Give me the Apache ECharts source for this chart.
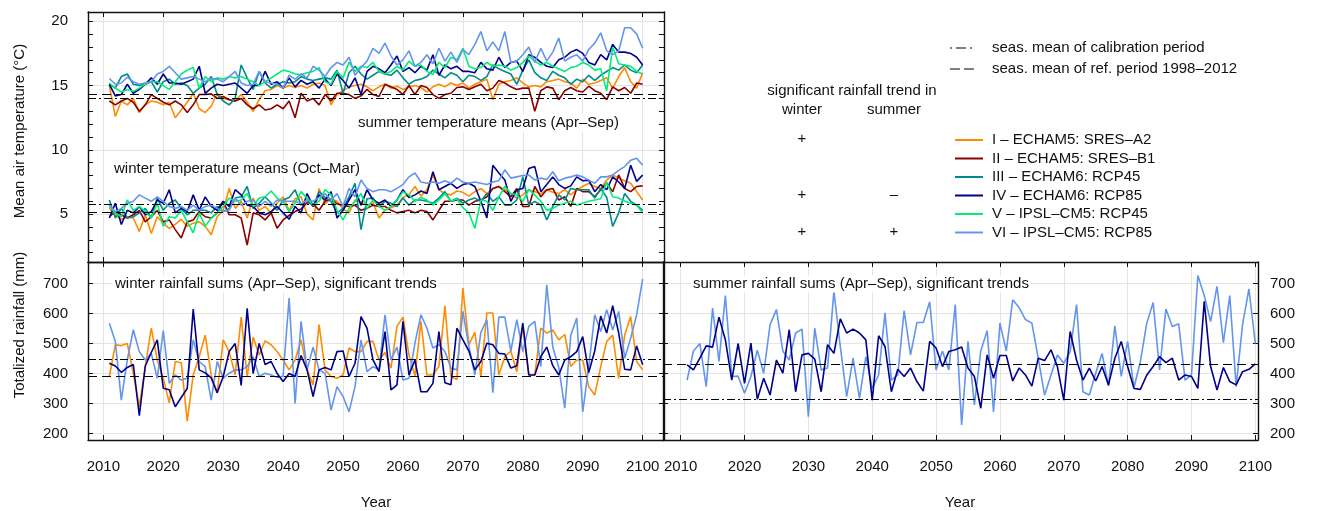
<!DOCTYPE html>
<html>
<head>
<meta charset="utf-8">
<title>Temperature and rainfall scenarios 2011-2100</title>
<script src="https://cdn.jsdelivr.net/npm/echarts@6/dist/echarts.min.js"></script>
<style>
  html, body { margin: 0; padding: 0; background: #fff; }
  #main { width: 1325px; height: 511px; }
</style>
</head>
<body>
<div id="main"></div>
<script>
// ---- data (one value per year, starting 2011) ----
var firstYear = 2011;
var modelNames = ['I \u2013 ECHAM5: SRES\u2013A2', 'II \u2013 ECHAM5: SRES\u2013B1', 'III \u2013 ECHAM6: RCP45',
                  'IV \u2013 ECHAM6: RCP85', 'V \u2013 IPSL\u2013CM5: RCP45', 'VI \u2013 IPSL\u2013CM5: RCP85'];
var modelColors = ['#FF8C00', '#8B0000', '#008B8B', '#00008B', '#00EE76', '#6495ED'];

// summer temperature means (Apr-Sep), deg C
var summerI = [15.0, 12.6, 13.8, 13.5, 14.0, 12.9, 13.5, 13.8, 13.7, 13.5, 13.7, 12.5, 13.1, 13.7, 14.4, 13.2, 12.9, 13.4, 14.4, 14.0, 13.9, 13.8, 14.3, 13.7, 13.0, 13.9, 14.6, 14.7, 15.0, 14.8,
               15.0, 14.85, 15.0, 14.8, 15.1, 15.2, 15.0, 13.5, 14.3, 14.6, 14.9, 15.0, 15.1, 14.9, 14.6, 14.9, 15.1, 14.8, 14.95, 14.7, 14.9, 15.0, 14.85, 14.5, 14.9, 15.1, 14.9, 15.2, 15.0, 15.2,
               14.8, 15.1, 15.3, 15.5, 13.9, 15.1, 15.3, 15.4, 15.6, 15.2, 14.9, 15.0, 14.9, 15.3, 15.4, 15.5, 15.3, 15.2, 14.8, 15.5, 15.1, 15.2, 15.4, 15.6, 14.8, 15.7, 16.4, 15.3, 14.8, 16.0];
var summerII = [13.8, 13.5, 13.8, 14.0, 13.7, 13.0, 13.5, 14.3, 14.0, 13.7, 13.5, 13.8, 13.5, 12.9, 13.5, 14.3, 14.3, 14.35, 14.0, 14.15, 13.9, 13.8, 14.0, 13.5, 13.2, 13.5, 13.1, 13.2, 13.5, 13.2,
                13.8, 12.5, 14.4, 13.8, 14.0, 13.5, 14.3, 13.8, 14.4, 14.4, 14.3, 14.0, 14.2, 14.7, 14.3, 14.15, 15.1, 14.9, 14.7, 14.3, 15.0, 14.3, 15.0, 14.85, 14.3, 14.0, 14.3, 14.4, 14.85, 14.9,
                14.7, 14.9, 15.1, 14.6, 14.8, 15.4, 15.2, 14.9, 14.7, 14.8, 14.8, 13.0, 14.6, 14.9, 14.8, 13.9, 14.6, 14.85, 14.6, 14.5, 14.95, 14.6, 14.4, 13.9, 14.9, 14.6, 14.85, 14.4, 15.2, 15.1];
var summerIII = [15.1, 14.8, 15.7, 15.9, 15.1, 15.0, 15.1, 15.3, 14.5, 15.3, 15.5, 15.1, 15.2, 15.0, 14.4, 14.8, 15.1, 15.7, 14.3, 13.8, 13.5, 14.0, 16.6, 15.6, 14.7, 16.1, 15.2, 14.8, 15.1, 15.3,
                 15.2, 15.3, 15.7, 15.5, 15.4, 15.5, 15.6, 15.5, 16.2, 14.4, 16.0, 16.5, 15.9, 15.5, 15.8, 16.1, 15.9, 15.8, 16.2, 15.6, 15.1, 15.4, 15.5, 15.7, 16.2, 15.9, 15.6, 16.0, 15.8, 15.3,
                 15.8, 15.7, 15.4, 15.7, 16.6, 16.3, 16.1, 15.9, 15.1, 16.2, 17.0, 16.0, 15.6, 15.4, 16.1, 15.8, 15.6, 15.1, 15.5, 15.3, 15.8, 15.4, 15.8, 16.1, 16.4, 16.2, 16.6, 16.2, 16.0, 16.6];
var summerIV = [15.1, 14.2, 14.3, 15.1, 14.4, 14.7, 15.1, 15.6, 15.1, 15.9, 15.2, 15.2, 15.1, 15.3, 15.5, 16.5, 14.4, 14.8, 15.1, 15.0, 15.1, 15.2, 14.8, 14.4, 15.0, 15.0, 16.1, 15.1, 15.3, 14.8,
                15.6, 14.9, 15.4, 15.1, 15.3, 14.8, 15.5, 15.0, 15.9, 15.4, 14.8, 15.6, 14.3, 16.1, 16.5, 16.3, 16.0, 16.6, 17.3, 16.1, 16.4, 16.0, 16.5, 16.2, 17.4, 15.8, 16.6, 16.3, 16.5, 16.1,
                16.1, 16.0, 16.8, 16.3, 16.2, 17.2, 16.4, 16.8, 16.9, 16.1, 17.4, 17.2, 16.8, 16.5, 16.4, 17.0, 17.2, 17.6, 17.8, 17.5, 16.8, 16.6, 17.4, 17.0, 18.2, 17.6, 17.6, 17.5, 17.2, 16.6];
var summerV = [15.2, 14.8, 14.5, 14.7, 14.55, 14.8, 15.1, 15.3, 15.3, 15.0, 14.7, 15.3, 15.9, 16.2, 16.4, 14.8, 15.7, 15.3, 15.6, 15.5, 15.7, 15.6, 15.7, 15.5, 15.3, 15.0, 15.3, 15.6, 15.9, 16.2,
               16.1, 15.9, 15.85, 16.0, 16.1, 16.4, 15.3, 15.1, 16.1, 15.6, 16.8, 16.1, 16.5, 16.4, 16.8, 16.1, 15.9, 16.1, 16.5, 16.2, 16.9, 16.5, 16.6, 16.1, 15.85, 16.8, 16.4, 17.2, 17.0, 17.9,
               16.5, 16.3, 16.4, 16.8, 16.5, 16.6, 16.5, 16.2, 16.4, 16.8, 17.3, 16.9, 16.6, 16.8, 16.5, 16.3, 16.1, 16.4, 16.5, 16.8, 16.6, 16.2, 16.3, 14.6, 18.0, 16.7, 16.6, 16.5, 16.1, 15.9];
var summerVI = [15.55, 15.1, 15.2, 15.65, 15.3, 15.1, 15.2, 15.3, 15.9, 16.1, 16.5, 16.0, 15.5, 15.6, 15.7, 15.5, 15.3, 15.55, 15.5, 15.3, 15.7, 16.1, 15.2, 15.0, 15.1, 16.1, 15.3, 15.2, 15.1, 14.8,
                15.8, 15.5, 15.9, 15.6, 16.5, 16.2, 15.7, 16.4, 16.8, 16.6, 17.2, 15.8, 16.4, 16.9, 17.9, 17.5, 18.3, 17.3, 16.6, 17.0, 17.7, 16.5, 16.8, 17.4, 16.7, 17.9, 16.9, 17.6, 16.8, 17.8,
                17.4, 18.2, 19.2, 17.7, 18.4, 17.7, 19.2, 16.8, 16.9, 17.4, 18.0, 16.8, 17.9, 16.9, 17.6, 18.7, 16.9, 17.2, 17.4, 16.9, 17.8, 18.3, 19.1, 17.7, 17.4, 17.7, 19.5, 19.5, 19.0, 17.9];

// winter temperature means (Oct-Mar), deg C
var winterI = [5.45, 4.95, 4.6, 4.8, 4.7, 3.65, 4.95, 3.5, 4.8, 4.3, 3.9, 4.2, 4.6, 4.05, 4.3, 4.4, 4.05, 3.4, 4.8, 5.3, 7.0, 5.45, 6.0, 4.7, 6.25, 5.3, 5.6, 5.1, 5.85, 6.35,
               5.3, 6.2, 6.35, 5.0, 4.55, 7.0, 5.8, 6.2, 6.0, 5.4, 5.1, 6.1, 5.9, 5.7, 5.9, 4.7, 5.3, 5.5, 5.7, 6.3, 6.5, 7.15, 6.4, 6.9, 8.05, 6.9, 6.6, 6.5, 6.8, 6.7,
               6.4, 6.75, 7.0, 6.6, 7.0, 7.15, 6.9, 6.6, 6.25, 6.5, 6.9, 6.75, 6.6, 6.9, 6.7, 6.6, 6.9, 6.5, 6.9, 7.15, 7.4, 7.15, 7.0, 7.65, 8.05, 7.8, 7.6, 7.4, 6.75, 6.1];
var winterII = [4.8, 5.2, 4.95, 4.7, 4.95, 5.3, 4.4, 4.8, 5.3, 4.4, 4.55, 3.8, 3.15, 4.4, 4.55, 5.2, 4.8, 4.7, 5.1, 6.0, 4.95, 4.95, 4.7, 2.6, 5.1, 4.95, 4.55, 5.1, 3.9, 4.55,
                4.9, 5.2, 5.4, 5.9, 5.8, 5.3, 6.0, 6.2, 5.8, 5.7, 5.6, 5.7, 5.3, 5.45, 5.7, 5.6, 5.6, 5.3, 5.1, 5.2, 5.3, 5.1, 5.3, 5.2, 4.55, 5.3, 6.0, 6.0, 6.1, 6.1,
                5.7, 6.0, 6.1, 6.35, 7.0, 7.15, 6.75, 6.35, 7.0, 5.6, 5.6, 7.15, 6.35, 6.9, 7.0, 6.1, 6.35, 5.6, 7.0, 6.75, 6.75, 6.35, 6.9, 7.4, 6.75, 8.05, 7.0, 6.75, 7.15, 7.2];
var winterIII = [6.1, 4.7, 5.45, 4.7, 4.8, 5.1, 5.45, 4.7, 6.25, 5.3, 5.85, 6.1, 5.45, 4.95, 5.3, 5.3, 5.3, 5.1, 5.6, 5.2, 5.45, 6.25, 6.35, 7.15, 5.45, 5.85, 6.35, 5.85, 5.3, 6.1,
                 6.3, 6.9, 5.7, 6.1, 5.6, 6.75, 6.3, 6.0, 5.1, 5.45, 6.35, 7.4, 3.8, 6.2, 6.25, 5.6, 6.0, 5.85, 5.6, 6.25, 5.7, 6.1, 6.1, 6.0, 5.85, 6.25, 6.75, 6.0, 6.25, 5.85,
                 6.1, 6.25, 6.0, 6.6, 6.0, 6.35, 5.7, 5.7, 6.1, 7.9, 5.7, 6.0, 5.7, 4.55, 5.6, 6.5, 6.1, 7.0, 6.9, 6.9, 6.9, 6.25, 7.0, 6.3, 4.05, 5.1, 6.6, 6.0, 5.7, 5.3];
var winterIV = [4.7, 5.85, 4.2, 5.3, 5.1, 5.6, 4.95, 5.2, 6.1, 5.85, 6.9, 5.1, 5.45, 5.2, 6.5, 5.3, 6.35, 5.6, 5.3, 6.0, 5.6, 6.9, 6.5, 5.7, 5.6, 5.1, 4.95, 5.2, 5.6, 5.1,
                4.6, 5.6, 5.1, 6.6, 5.6, 6.5, 6.1, 6.75, 4.7, 5.3, 6.1, 6.9, 5.7, 6.9, 6.1, 5.85, 6.1, 5.6, 6.1, 6.9, 6.3, 6.5, 6.8, 6.6, 8.3, 6.9, 7.15, 7.4, 7.0, 7.3,
                7.4, 7.15, 6.0, 4.7, 8.8, 8.2, 7.65, 6.0, 6.9, 7.0, 8.55, 8.7, 6.75, 7.3, 7.9, 7.3, 7.0, 7.2, 7.9, 7.6, 7.65, 6.75, 7.3, 6.9, 7.9, 7.5, 7.0, 8.8, 7.55, 8.05];
var winterV = [5.6, 5.1, 4.8, 6.1, 5.3, 5.6, 5.2, 4.7, 5.85, 4.05, 4.8, 4.7, 5.3, 4.4, 3.55, 5.1, 4.05, 4.7, 5.1, 5.6, 6.25, 6.0, 6.1, 6.6, 5.6, 6.25, 6.35, 6.8, 6.25, 6.0,
               5.2, 5.85, 6.75, 6.25, 5.7, 6.0, 6.9, 6.5, 5.3, 4.55, 5.45, 6.0, 6.6, 5.45, 6.1, 5.6, 5.3, 5.6, 6.1, 6.75, 6.5, 6.0, 6.3, 6.1, 5.7, 6.1, 6.6, 6.0, 6.2, 5.5,
               5.1, 3.9, 6.1, 6.0, 5.3, 6.35, 7.15, 6.6, 6.5, 6.0, 6.9, 6.5, 6.0, 5.3, 5.45, 5.7, 5.85, 6.0, 5.7, 5.85, 6.0, 6.1, 6.2, 7.5, 6.35, 6.25, 6.0, 5.85, 5.7, 5.1];
var winterVI = [5.7, 5.2, 5.45, 5.85, 6.0, 6.5, 6.25, 6.0, 6.35, 6.0, 5.6, 5.45, 5.6, 5.3, 5.7, 5.3, 5.6, 5.7, 5.45, 5.2, 5.3, 6.25, 5.7, 6.0, 6.1, 5.6, 6.0, 5.6, 6.1, 6.0,
                6.0, 6.0, 5.8, 6.1, 6.0, 6.3, 6.6, 6.1, 6.6, 5.6, 7.0, 6.35, 7.65, 7.0, 6.75, 6.9, 6.9, 6.75, 7.0, 7.3, 7.9, 8.2, 7.5, 7.4, 7.5, 7.4, 7.6, 7.4, 7.8, 7.5,
                7.4, 7.5, 7.4, 7.3, 7.5, 7.6, 8.45, 7.8, 7.9, 8.0, 8.05, 7.65, 7.8, 7.7, 8.3, 7.6, 7.8, 7.9, 8.05, 7.9, 7.65, 7.4, 7.9, 7.9, 8.05, 8.4, 8.7, 9.2, 9.35, 8.8];

// rainfall sums (mm), models with significant trends only
var rainWinterI = [389, 496, 493, 500, 401, 289, 423, 551, 445, 384, 302, 440, 436, 241, 395, 456, 528, 395, 334, 512, 473, 395, 588, 390, 521, 462, 509, 496, 473, 445,
                   412, 445, 512, 412, 362, 563, 412, 390, 384, 395, 485, 473, 473, 507, 507, 445, 470, 418, 557, 588, 462, 392, 574, 395, 395, 423, 626, 390, 380, 685,
                   496, 537, 390, 602, 602, 395, 456, 475, 406, 557, 395, 395, 551, 535, 545, 512, 530, 423, 445, 445, 356, 328, 423, 507, 528, 384, 528, 590, 440, 412];
var rainWinterIV = [434, 425, 404, 420, 430, 259, 425, 470, 512, 351, 346, 289, 320, 350, 615, 412, 402, 385, 336, 389, 473, 500, 360, 617, 400, 500, 430, 440, 400, 373,
                    400, 390, 460, 412, 323, 412, 420, 412, 473, 475, 390, 434, 590, 551, 445, 406, 540, 345, 362, 574, 395, 445, 339, 339, 367, 540, 369, 362, 551, 512,
                    475, 412, 440, 501, 496, 467, 465, 418, 426, 568, 395, 395, 456, 488, 426, 395, 445, 456, 473, 523, 403, 475, 592, 535, 626, 535, 414, 412, 492, 429];
var rainWinterVI = [568, 507, 311, 445, 546, 473, 445, 467, 384, 543, 367, 395, 378, 384, 512, 440, 423, 311, 440, 384, 401, 412, 412, 423, 456, 390, 401, 395, 387, 391,
                    652, 300, 574, 412, 488, 412, 401, 278, 356, 323, 272, 356, 512, 406, 423, 412, 596, 445, 488, 378, 384, 501, 596, 551, 485, 496, 473, 418, 412, 607,
                    490, 395, 537, 580, 336, 588, 588, 475, 580, 473, 557, 574, 423, 696, 488, 420, 284, 528, 585, 272, 423, 596, 540, 613, 545, 607, 451, 518, 596, 716];
var rainSummerIV = [429, 412, 451, 492, 488, 588, 512, 378, 500, 367, 501, 314, 384, 328, 445, 401, 546, 339, 462, 467, 448, 339, 496, 467, 582, 535, 548, 535, 512, 311,
                    526, 490, 339, 414, 390, 418, 373, 341, 507, 485, 423, 473, 479, 488, 418, 390, 284, 462, 384, 460, 460, 375, 418, 395, 358, 451, 443, 479, 423, 311,
                    540, 445, 378, 418, 375, 423, 362, 451, 507, 423, 350, 347, 395, 423, 456, 436, 451, 378, 395, 390, 350, 641, 423, 345, 420, 373, 362, 406, 414, 432];
var rainSummerVI = [378, 475, 500, 356, 618, 440, 660, 390, 391, 334, 390, 478, 401, 563, 613, 475, 445, 535, 548, 256, 551, 412, 418, 674, 490, 323, 451, 317, 456, 350,
                    395, 602, 378, 395, 610, 462, 570, 570, 639, 412, 475, 412, 630, 228, 507, 295, 475, 543, 272, 568, 475, 646, 620, 580, 568, 451, 328, 395, 462, 434,
                    473, 630, 339, 328, 401, 467, 358, 559, 390, 507, 353, 440, 568, 637, 412, 615, 557, 566, 378, 395, 727, 660, 573, 691, 503, 660, 356, 563, 682, 500];

// seasonal means: [summer, winter] for temperature, [winter, summer] for rainfall
var tempCalibMeans = [14.05, 5.75];
var tempRefMeans = [14.35, 5.12];
var rainCalibMeans = [448, 314];
var rainRefMeans = [390, 431];

// axis ticks and labels
var decadeTicks = [2010, 2020, 2030, 2040, 2050, 2060, 2070, 2080, 2090, 2100];
var tempTicks = [2, 3, 4, 5, 6, 7, 8, 9, 10, 11, 12, 13, 14, 15, 16, 17, 18, 19, 20];
var tempLabels = [5, 10, 15, 20];
var rainTicks = [200, 300, 400, 500, 600, 700];

// ---- chart ----
var font = '"Liberation Sans", Arial, sans-serif';
var ink = '#111';
var dashed = [9, 5];
var dashDot = [8, 3, 2, 3];

var myChart = echarts.init(document.getElementById('main'));

function toPairs(values) {
    return values.map(function(v, i) { return [firstYear + i, v]; });
}

function plain(v) { return String(v); }

// an axis that only draws the frame and/or inner ticks
function frameAxis(base, pos, ticks, showLine) {
    return {
        type: 'value', gridIndex: base.gridIndex, position: pos, min: base.min, max: base.max, offset: 0,
        axisLine: { show: showLine !== false, onZero: false, lineStyle: { color: ink, width: 1.4 } },
        axisTick: { show: true, inside: true, length: 5, customValues: ticks, lineStyle: { color: ink } },
        axisLabel: { show: false },
        splitLine: { show: false }
    };
}

function mainAxis(gridIndex, pos, min, max, ticks, labels, showLabels, splitNumber, margin) {
    return {
        type: 'value', gridIndex: gridIndex, position: pos, min: min, max: max, splitNumber: splitNumber,
        axisLine: { show: true, onZero: false, lineStyle: { color: ink, width: 1.4 } },
        axisTick: { show: true, inside: true, length: 5, customValues: ticks, lineStyle: { color: ink } },
        axisLabel: { show: showLabels, customValues: labels, formatter: plain, margin: margin,
                     fontSize: 15, color: ink, fontFamily: font },
        splitLine: { show: true, lineStyle: { color: '#e4e4e4', width: 1 } }
    };
}

var xTemp = mainAxis(0, 'bottom', 2007.44, 2103.56, decadeTicks, decadeTicks, false, 10, 19);
var xRainW = mainAxis(1, 'bottom', 2007.44, 2103.56, decadeTicks, decadeTicks, true, 10, 19);
var xRainS = mainAxis(2, 'bottom', 2007.23, 2100.42, decadeTicks, decadeTicks, true, 10, 19);
// grid lines only at labelled values, the unit ticks come from a helper axis
var yTemp = mainAxis(0, 'left', 1.28, 20.72, tempLabels, tempLabels, true, 4, 20);
var yRainW = mainAxis(1, 'left', 178, 772, rainTicks, rainTicks, true, 6, 20);
var yRainS = mainAxis(2, 'right', 178, 772, rainTicks, rainTicks, true, 6, 12);

function lineSeries(name, color, values, xi, yi) {
    return {
        name: name, type: 'line', xAxisIndex: xi, yAxisIndex: yi,
        data: toPairs(values), symbol: 'none', showSymbol: false, silent: true,
        lineStyle: { color: color, width: 1.6 }, itemStyle: { color: color }
    };
}

function meanLines(calib, ref) {
    return {
        silent: true, symbol: ['none', 'none'], label: { show: false },
        data: [
            { yAxis: calib, lineStyle: { type: dashDot, color: '#000', width: 1.2 } },
            { yAxis: ref, lineStyle: { type: dashed, color: '#000', width: 1.2 } }
        ]
    };
}

var summerSets = [summerI, summerII, summerIII, summerIV, summerV, summerVI];
var winterSets = [winterI, winterII, winterIII, winterIV, winterV, winterVI];
var series = [];
for (var m = 0; m < 6; m++) {
    series.push(lineSeries(modelNames[m], modelColors[m], summerSets[m], 0, 0));
}
for (var m = 0; m < 6; m++) {
    series.push(lineSeries(modelNames[m], modelColors[m], winterSets[m], 0, 0));
}
series[series.length - 1].markLine = meanLines(tempCalibMeans[0], tempRefMeans[0]);
series[series.length - 2].markLine = meanLines(tempCalibMeans[1], tempRefMeans[1]);

series.push(lineSeries(modelNames[0], modelColors[0], rainWinterI, 2, 2));
series.push(lineSeries(modelNames[5], modelColors[5], rainWinterVI, 2, 2));
var rw = lineSeries(modelNames[3], modelColors[3], rainWinterIV, 2, 2);
rw.markLine = meanLines(rainCalibMeans[0], rainRefMeans[0]);
series.push(rw);

series.push(lineSeries(modelNames[5], modelColors[5], rainSummerVI, 4, 4));
var rs = lineSeries(modelNames[3], modelColors[3], rainSummerIV, 4, 4);
rs.markLine = meanLines(rainCalibMeans[1], rainRefMeans[1]);
series.push(rs);

function label(text, x, y, align, extra) {
    var el = {
        type: 'text', x: x, y: y, z: 100, silent: true,
        style: { text: text, fontSize: 15, fontFamily: font, fill: ink, align: align || 'left', verticalAlign: 'middle' }
    };
    if (extra) { for (var k in extra) { el[k] = extra[k]; } }
    return el;
}

// panel captions sit on a white box, covering the grid line behind them
function caption(text, x, y) {
    var el = label(text, x, y);
    el.style.backgroundColor = '#fff';
    el.style.padding = [1, 2, 1, 2];
    return el;
}

var option = {
    animation: false,
    textStyle: { fontFamily: font },
    grid: [
        { left: 88, top: 12, width: 576, height: 250 },
        { left: 88, top: 262, width: 576, height: 178 },
        { left: 663, top: 262, width: 595, height: 178 }
    ],
    xAxis: [xTemp, frameAxis(xTemp, 'top', decadeTicks),
            xRainW, frameAxis(xRainW, 'top', decadeTicks),
            xRainS, frameAxis(xRainS, 'top', decadeTicks)],
    yAxis: [yTemp, frameAxis(yTemp, 'right', tempTicks),
            yRainW, frameAxis(yRainW, 'right', rainTicks),
            yRainS, frameAxis(yRainS, 'left', rainTicks),
            frameAxis(yTemp, 'left', tempTicks, false)],
    legend: {
        data: modelNames, orient: 'vertical', left: 950, top: 127.5,
        icon: 'rect', itemWidth: 28, itemHeight: 2, itemGap: 3.5, selectedMode: false,
        textStyle: { fontSize: 15, color: ink, fontFamily: font, padding: [0, 0, 0, 4] }
    },
    graphic: [
        caption('summer temperature means (Apr\u2013Sep)', 356, 123),
        caption('winter temperature means (Oct\u2013Mar)', 112, 169),
        caption('winter rainfall sums (Apr\u2013Sep), significant trends', 113, 284),
        caption('summer rainfall sums (Apr\u2013Sep), significant trends', 691, 284),
        label('Mean air temperature (\u00B0C)', 20, 131, 'center', { rotation: Math.PI / 2 }),
        label('Totalized rainfall (mm)', 20, 325, 'center', { rotation: Math.PI / 2 }),
        label('Year', 376, 503, 'center'),
        label('Year', 960, 503, 'center'),
        // line-type key
        { type: 'line', silent: true, shape: { x1: 950, y1: 48, x2: 974, y2: 48 }, style: { stroke: '#000', lineWidth: 1.2, lineDash: [2, 4, 10, 4] } },
        { type: 'line', silent: true, shape: { x1: 950, y1: 69, x2: 974, y2: 69 }, style: { stroke: '#000', lineWidth: 1.2, lineDash: [10, 4] } },
        label('seas. mean of calibration period', 992, 48),
        label('seas. mean of ref. period 1998\u20132012', 992, 69),
        // trend table
        label('significant rainfall trend in', 852, 91, 'center'),
        label('winter', 802, 110, 'center'),
        label('summer', 894, 110, 'center'),
        label('+', 802, 139, 'center'),
        label('+', 802, 195, 'center'),
        label('\u2013', 894, 195, 'center'),
        label('+', 802, 232, 'center'),
        label('+', 894, 232, 'center')
    ],
    series: series
};

myChart.setOption(option);
</script>
</body>
</html>
